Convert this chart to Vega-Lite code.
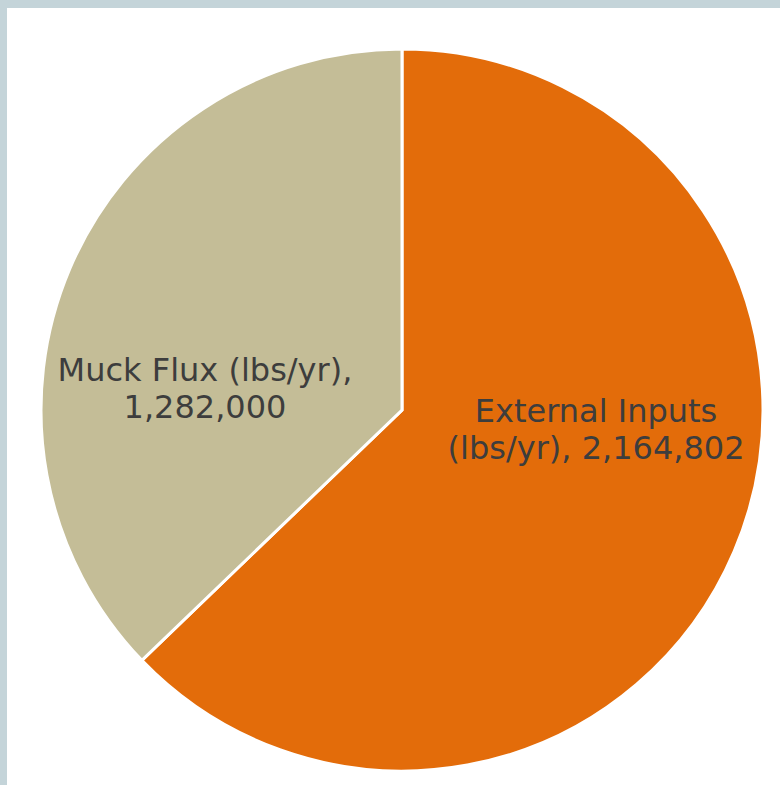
{
  "$schema": "https://vega.github.io/schema/vega-lite/v6.json",
  "width": 773,
  "height": 777,
  "autosize": "none",
  "padding": {"left": 7, "top": 8, "right": 0, "bottom": 0},
  "background": "#c4d4d9",
  "view": {"fill": "white", "stroke": null},
  "data": {
    "values": [
      {"source": "External Inputs (lbs/yr)", "lbs": 2164802},
      {"source": "Muck Flux (lbs/yr)", "lbs": 1282000}
    ]
  },
  "transform": [
    {"stack": "lbs", "groupby": [], "sort": [{"field": "source", "order": "ascending"}], "as": ["t0", "t1"]},
    {"calculate": "(datum.t0 + datum.t1) / 2", "as": "mid"}
  ],
  "layer": [
    {
      "mark": {
        "type": "arc",
        "outerRadius": 361,
        "stroke": "white",
        "strokeWidth": 3,
        "x": {"expr": "width / 2 + 8.5"},
        "y": {"expr": "height / 2 + 13.5"}
      },
      "encoding": {
        "theta": {"field": "lbs", "type": "quantitative", "stack": true, "scale": {"nice": false, "zero": true}},
        "order": {"field": "t0", "type": "quantitative"},
        "color": {
          "field": "source",
          "type": "nominal",
          "scale": {
            "domain": ["External Inputs (lbs/yr)", "Muck Flux (lbs/yr)"],
            "range": ["#e36c0a", "#c4bd97"]
          },
          "legend": null
        }
      }
    },
    {
      "transform": [
        {"filter": "datum.source === 'Muck Flux (lbs/yr)'"},
        {"calculate": "datum.source + ',\\n' + format(datum.lbs, ',')", "as": "label"}
      ],
      "mark": {
        "type": "text",
        "radius": 200,
        "x": {"expr": "width / 2 + 8.5"},
        "y": {"expr": "height / 2 + 13.5"},
        "dx": -13,
        "dy": 39,
        "align": "center",
        "baseline": "middle",
        "lineBreak": "\n",
        "lineHeight": 37,
        "font": "DejaVu Sans",
        "fontSize": 32,
        "color": "#3d3d3d"
      },
      "encoding": {
        "theta": {"field": "mid", "type": "quantitative", "stack": null},
        "text": {"field": "label"}
      }
    },
    {
      "transform": [
        {"filter": "datum.source === 'External Inputs (lbs/yr)'"},
        {"calculate": "replace(datum.source, ' (', '\\n(') + ', ' + format(datum.lbs, ',')", "as": "label"}
      ],
      "mark": {
        "type": "text",
        "radius": 200,
        "x": {"expr": "width / 2 + 8.5"},
        "y": {"expr": "height / 2 + 13.5"},
        "dx": 10,
        "dy": -76,
        "align": "center",
        "baseline": "middle",
        "lineBreak": "\n",
        "lineHeight": 37,
        "font": "DejaVu Sans",
        "fontSize": 32,
        "color": "#3d3d3d"
      },
      "encoding": {
        "theta": {"field": "mid", "type": "quantitative", "stack": null},
        "text": {"field": "label"}
      }
    }
  ]
}
